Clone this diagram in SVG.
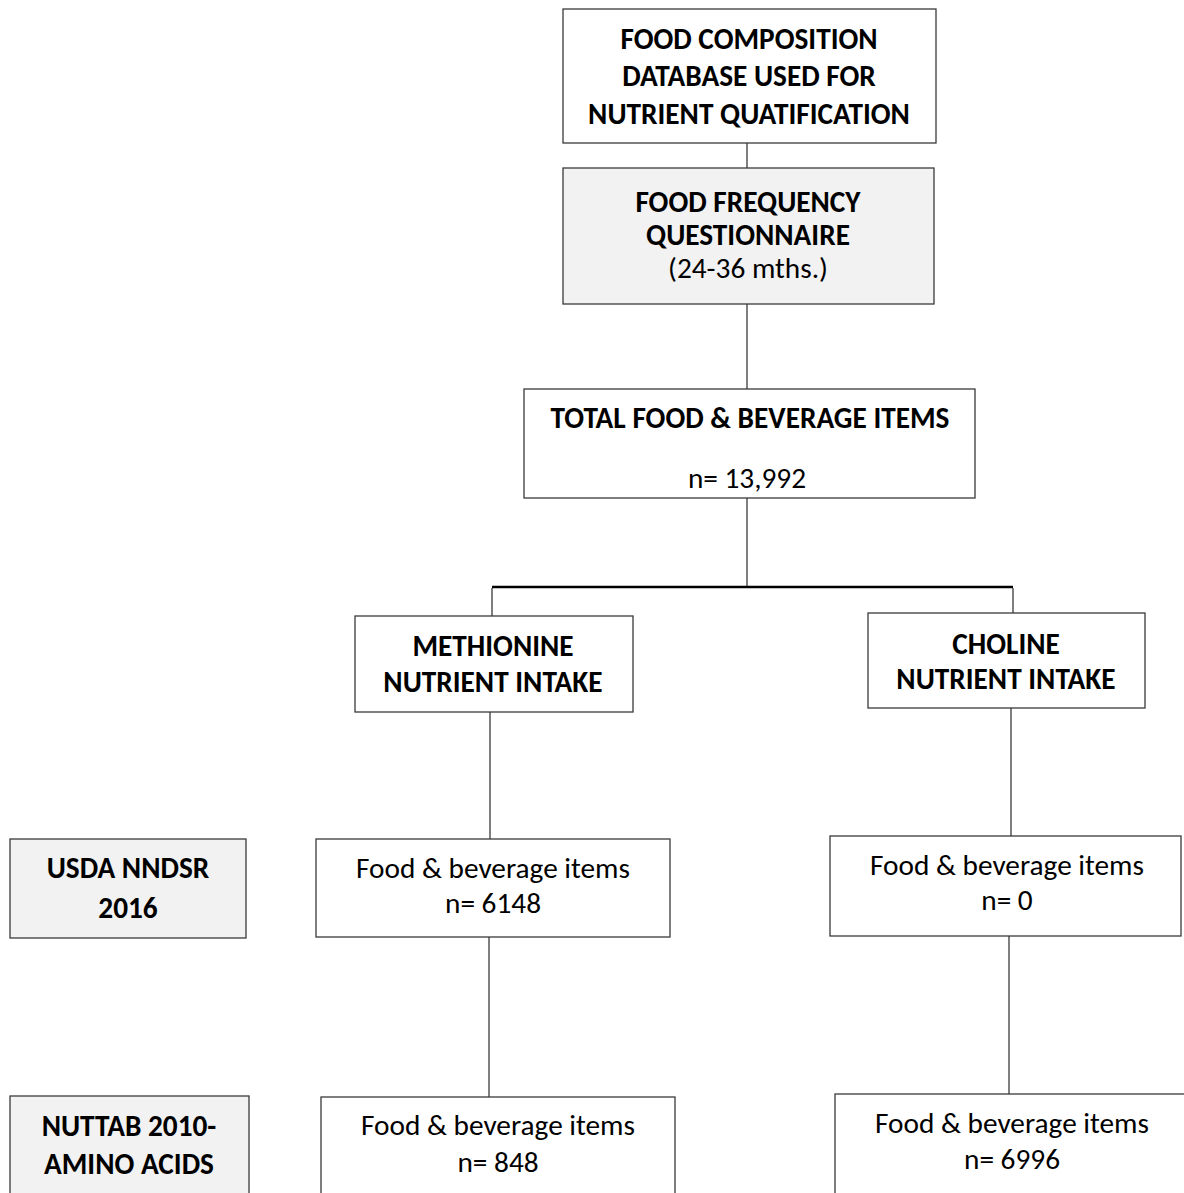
<svg xmlns="http://www.w3.org/2000/svg" width="1184" height="1193" viewBox="0 0 1184 1193">
<style>
.box{fill:#ffffff;stroke:#3a3a3a;stroke-width:1.3}
.gray{fill:#f2f2f2;stroke:#3a3a3a;stroke-width:1.3}
.conn{stroke:#3a3a3a;stroke-width:1.3;fill:none}
.bar{stroke:#000;stroke-width:2.4;fill:none}
text{font-family:Carlito,Calibri,Lato,"Liberation Sans",sans-serif;fill:#000;text-anchor:middle}
.b{font-weight:bold;font-size:29.3px}
.r{font-size:29.3px}
</style>
<rect width="1184" height="1193" fill="#ffffff"/>
<g id="connectors">
<line class="conn" x1="747" y1="143" x2="747" y2="168"/>
<line class="conn" x1="747" y1="304" x2="747" y2="389"/>
<line class="conn" x1="747" y1="498" x2="747" y2="587"/>
<line class="bar" x1="492" y1="587" x2="1013" y2="587"/>
<line class="conn" x1="492" y1="588" x2="492" y2="616"/>
<line class="conn" x1="1013" y1="588" x2="1013" y2="613"/>
<line class="conn" x1="490" y1="712" x2="490" y2="839"/>
<line class="conn" x1="1011" y1="708" x2="1011" y2="836"/>
<line class="conn" x1="489" y1="937" x2="489" y2="1097"/>
<line class="conn" x1="1009" y1="936" x2="1009" y2="1094"/>
</g>
<g id="food-composition-db">
<rect class="box" x="563" y="9" width="373" height="134"/>
<text class="b" x="749" y="49">FOOD COMPOSITION</text>
<text class="b" x="749" y="86">DATABASE USED FOR</text>
<text class="b" x="749" y="124">NUTRIENT QUATIFICATION</text>
</g>
<g id="ffq">
<rect class="gray" x="563" y="168" width="371" height="136"/>
<text class="b" x="748" y="212">FOOD FREQUENCY</text>
<text class="b" x="748" y="245">QUESTIONNAIRE</text>
<text class="r" x="748" y="278">(24-36 mths.)</text>
</g>
<g id="total-items">
<rect class="box" x="524" y="389" width="451" height="109"/>
<text class="b" x="750" y="428">TOTAL FOOD &amp; BEVERAGE ITEMS</text>
<text class="r" x="747" y="488">n= 13,992</text>
</g>
<g id="methionine">
<rect class="box" x="355" y="616" width="278" height="96"/>
<text class="b" x="493" y="656">METHIONINE</text>
<text class="b" x="493" y="692">NUTRIENT INTAKE</text>
</g>
<g id="choline">
<rect class="box" x="868" y="613" width="277" height="95"/>
<text class="b" x="1006" y="654">CHOLINE</text>
<text class="b" x="1006" y="689">NUTRIENT INTAKE</text>
</g>
<g id="usda">
<rect class="gray" x="10" y="839" width="236" height="99"/>
<text class="b" x="128" y="878">USDA NNDSR</text>
<text class="b" x="128" y="918">2016</text>
</g>
<g id="meth-usda">
<rect class="box" x="316" y="839" width="354" height="98"/>
<text class="r" x="493" y="878">Food &amp; beverage items</text>
<text class="r" x="493" y="913">n= 6148</text>
</g>
<g id="chol-usda">
<rect class="box" x="830" y="836" width="351" height="100"/>
<text class="r" x="1007" y="875">Food &amp; beverage items</text>
<text class="r" x="1007" y="910">n= 0</text>
</g>
<g id="nuttab">
<rect class="gray" x="10" y="1096" width="239" height="110"/>
<text class="b" x="129" y="1136">NUTTAB 2010-</text>
<text class="b" x="129" y="1174">AMINO ACIDS</text>
</g>
<g id="meth-nuttab">
<rect class="box" x="321" y="1097" width="354" height="110"/>
<text class="r" x="498" y="1135">Food &amp; beverage items</text>
<text class="r" x="498" y="1172">n= 848</text>
</g>
<g id="chol-nuttab">
<rect class="box" x="835" y="1094" width="354" height="110"/>
<text class="r" x="1012" y="1133">Food &amp; beverage items</text>
<text class="r" x="1012" y="1169">n= 6996</text>
</g>
</svg>
